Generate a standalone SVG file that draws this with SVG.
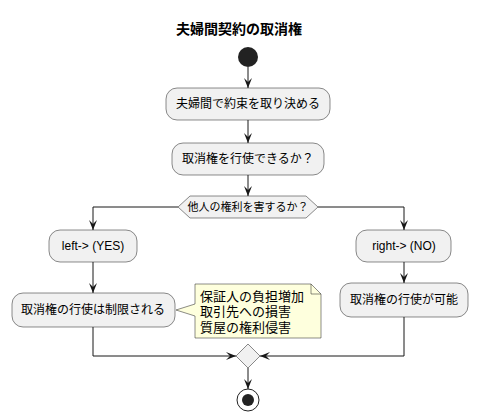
<svg xmlns="http://www.w3.org/2000/svg" width="478" height="420" viewBox="0 0 478 420">
<defs>
<marker id="ah" viewBox="0 0 10 8" refX="10" refY="4" markerWidth="10" markerHeight="8" markerUnits="userSpaceOnUse" orient="auto">
<path d="M0,0 L10,4 L0,8 L4,4 Z" fill="#181818"/>
</marker>
</defs>
<style>
.box{fill:#F1F1F1;stroke:#181818;stroke-width:0.5}
.t{font-family:"Liberation Sans","Noto Sans CJK JP",sans-serif;font-size:12px;fill:#000;text-anchor:middle;dominant-baseline:central}
.nt{font-size:13px;text-anchor:start}
.ln{fill:none;stroke:#181818;stroke-width:1}
.arr{fill:none;stroke:#181818;stroke-width:1;marker-end:url(#ah)}
</style>
<rect width="478" height="420" fill="#FFFFFF"/>
<text x="239" y="29" class="t" style="font-size:14px;font-weight:bold">夫婦間契約の取消権</text>
<g id="start"><circle cx="248" cy="57" r="10" fill="#222222"/></g>
<g id="n1"><rect class="box" x="166" y="88" width="164" height="32" rx="11"/><text class="t" x="248" y="104">夫婦間で約束を取り決める</text></g>
<g id="n2"><rect class="box" x="172" y="143" width="152" height="32" rx="11"/><text class="t" x="248" y="159">取消権を行使できるか？</text></g>
<g id="d1"><polygon class="box" points="178,207 190,196 306,196 318,207 306,218 190,218"/><text class="t" x="248" y="207" style="font-size:11px">他人の権利を害するか？</text></g>
<g id="n3"><rect class="box" x="49" y="230" width="88" height="32" rx="11"/><text class="t" x="93" y="246">left-&gt; (YES)</text></g>
<g id="n4"><rect class="box" x="12" y="293" width="163" height="34" rx="11"/><text class="t" x="93" y="310">取消権の行使は制限される</text></g>
<g id="note"><path d="M195,284 L311,284 L321,294 L321,338 L195,338 L195,316 L176,310 L195,304 Z" fill="#FEFFDD" stroke="#181818" stroke-width="0.5"/><path d="M311,284 L311,294 L321,294" fill="none" stroke="#181818" stroke-width="0.5"/>
<text class="t nt" x="200" y="296">保証人の負担増加</text>
<text class="t nt" x="200" y="311">取引先への損害</text>
<text class="t nt" x="200" y="327">質屋の権利侵害</text></g>
<g id="n5"><rect class="box" x="356" y="230" width="95" height="32" rx="11"/><text class="t" x="404" y="246">right-&gt; (NO)</text></g>
<g id="n6"><rect class="box" x="340" y="283" width="128" height="34" rx="11"/><text class="t" x="404" y="300">取消権の行使が可能</text></g>
<g id="merge"><polygon class="box" points="248,344 260,356 248,368 236,356"/></g>
<g id="end"><circle cx="248" cy="400" r="11" fill="none" stroke="#222222" stroke-width="1"/><circle cx="248" cy="400" r="6" fill="#222222"/></g>
<g id="connectors">
<line class="arr" x1="248" y1="67" x2="248" y2="88"/>
<line class="arr" x1="248" y1="120" x2="248" y2="143"/>
<line class="arr" x1="248" y1="175" x2="248" y2="196"/>
<polyline class="arr" points="178,207 93,207 93,230"/>
<polyline class="arr" points="318,207 404,207 404,230"/>
<line class="arr" x1="93" y1="262" x2="93" y2="293"/>
<line class="arr" x1="404" y1="262" x2="404" y2="283"/>
<polyline class="arr" points="93,327 93,356 236,356"/>
<polyline class="arr" points="404,317 404,356 260,356"/>
<line class="arr" x1="248" y1="368" x2="248" y2="389"/>
</g>
</svg>
